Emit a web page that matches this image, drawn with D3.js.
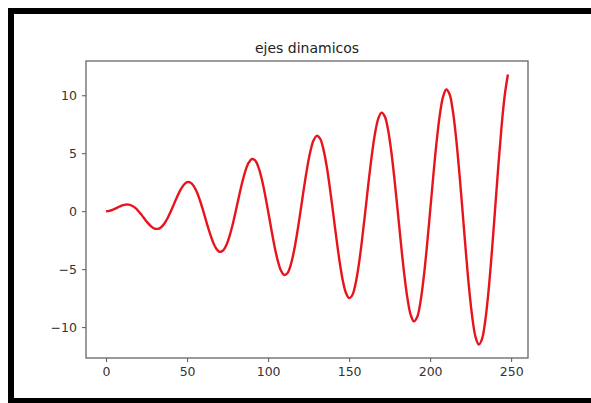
<!doctype html>
<html>

<head>
  <meta charset="utf-8">
  <title>ejes dinamicos</title>
  <style>
    html, body { margin: 0; padding: 0; background: #fff; }
    #chart { width: 591px; height: 403px; }
    #chart text { font-family: "DejaVu Sans", sans-serif; }
  </style>
</head>

<body>
  <div id="chart"></div>
  <script src="https://d3js.org/d3.v7.min.js"></script>
  <script>
    // x runs 0..248 in steps of 2
    const xStep = 2;
    const yValues = [
      0, 0.03, 0.12, 0.24, 0.38, 0.5, 0.57, 0.57, 0.47, 0.28,
      0, -0.34, -0.71, -1.05, -1.33, -1.5, -1.52, -1.38, -1.06, -0.59,
      0, 0.65, 1.29, 1.86, 2.28, 2.5, 2.47, 2.18, 1.65, 0.9,
      0, -0.96, -1.88, -2.67, -3.23, -3.5, -3.42, -2.99, -2.23, -1.21,
      0, 1.27, 2.47, 3.48, 4.18, 4.5, 4.38, 3.8, 2.82, 1.51,
      0, -1.58, -3.06, -4.29, -5.14, -5.5, -5.33, -4.61, -3.41, -1.82,
      0, 1.89, 3.65, 5.1, 6.09, 6.5, 6.28, 5.42, 4.0, 2.13,
      0, -2.19, -4.23, -5.91, -7.04, -7.5, -7.23, -6.23, -4.59, -2.44,
      0, 2.5, 4.82, 6.72, 7.99, 8.5, 8.18, 7.04, 5.17, 2.75,
      0, -2.81, -5.41, -7.52, -8.94, -9.5, -9.13, -7.85, -5.76, -3.06,
      0, 3.12, 6.0, 8.33, 9.89, 10.5, 10.08, 8.66, 6.35, 3.37,
      0, -3.43, -6.59, -9.14, -10.84, -11.5, -11.03, -9.47, -6.94, -3.68,
      0, 3.74, 7.17, 9.95, 11.79
    ];
    const xTicks = [0, 50, 100, 150, 200, 250];
    const yTicks = [-10, -5, 0, 5, 10];
    const title = 'ejes dinamicos';

    const points = yValues.map((v, i) => ({ x: i * xStep, y: v }));

    const width = 591;
    const height = 403;
    const box = { left: 86, right: 528, top: 61, bottom: 358 };

    const svg = d3.select('#chart').append('svg')
      .attr('width', width)
      .attr('height', height);

    svg.append('rect')
      .attr('width', width).attr('height', height)
      .attr('fill', '#fff');

    // black frame around the figure (no right side)
    const frame = svg.append('g').attr('fill', '#000');
    frame.append('rect').attr('x', 8).attr('y', 8).attr('width', width - 8).attr('height', 6);
    frame.append('rect').attr('x', 8).attr('y', 8).attr('width', 6).attr('height', height - 8);
    frame.append('rect').attr('x', 8).attr('y', 398).attr('width', width - 8).attr('height', 5);

    // matplotlib style 5% margins
    const xExt = d3.extent(points, d => d.x);
    const yExt = d3.extent(points, d => d.y);
    const xPad = (xExt[1] - xExt[0]) * 0.05;
    const yPad = (yExt[1] - yExt[0]) * 0.05;

    const x = d3.scaleLinear()
      .domain([xExt[0] - xPad, xExt[1] + xPad])
      .range([box.left, box.right]);
    const y = d3.scaleLinear()
      .domain([yExt[0] - yPad, yExt[1] + yPad])
      .range([box.bottom, box.top]);

    const line = d3.line()
      .x(d => x(d.x))
      .y(d => y(d.y))
      .curve(d3.curveCatmullRom.alpha(0.5));

    svg.append('path')
      .datum(points)
      .attr('d', line)
      .attr('fill', 'none')
      .attr('stroke', '#e8141c')
      .attr('stroke-width', 2.4)
      .attr('stroke-linejoin', 'round');

    const xAxis = svg.append('g')
      .attr('transform', `translate(0,${box.bottom})`)
      .call(d3.axisBottom(x).tickValues(xTicks).tickSize(4).tickPadding(5).tickSizeOuter(0));
    const yAxis = svg.append('g')
      .attr('transform', `translate(${box.left},0)`)
      .call(d3.axisLeft(y).tickValues(yTicks).tickSize(4).tickPadding(5).tickSizeOuter(0)
        .tickFormat(d => d < 0 ? '\u2212' + Math.abs(d) : d));

    [xAxis, yAxis].forEach(a => {
      a.select('.domain').remove();
      a.selectAll('.tick line').attr('stroke', '#555');
      a.selectAll('.tick text')
        .attr('fill', '#333')
        .style('font-size', '12.5px');
    });

    svg.append('rect')
      .attr('x', box.left).attr('y', box.top)
      .attr('width', box.right - box.left)
      .attr('height', box.bottom - box.top)
      .attr('fill', 'none')
      .attr('stroke', '#666')
      .attr('stroke-width', 1.3);

    svg.append('text')
      .attr('x', (box.left + box.right) / 2)
      .attr('y', 53)
      .attr('text-anchor', 'middle')
      .attr('fill', '#222')
      .style('font-size', '14px')
      .text(title);
  </script>
</body>

</html>
